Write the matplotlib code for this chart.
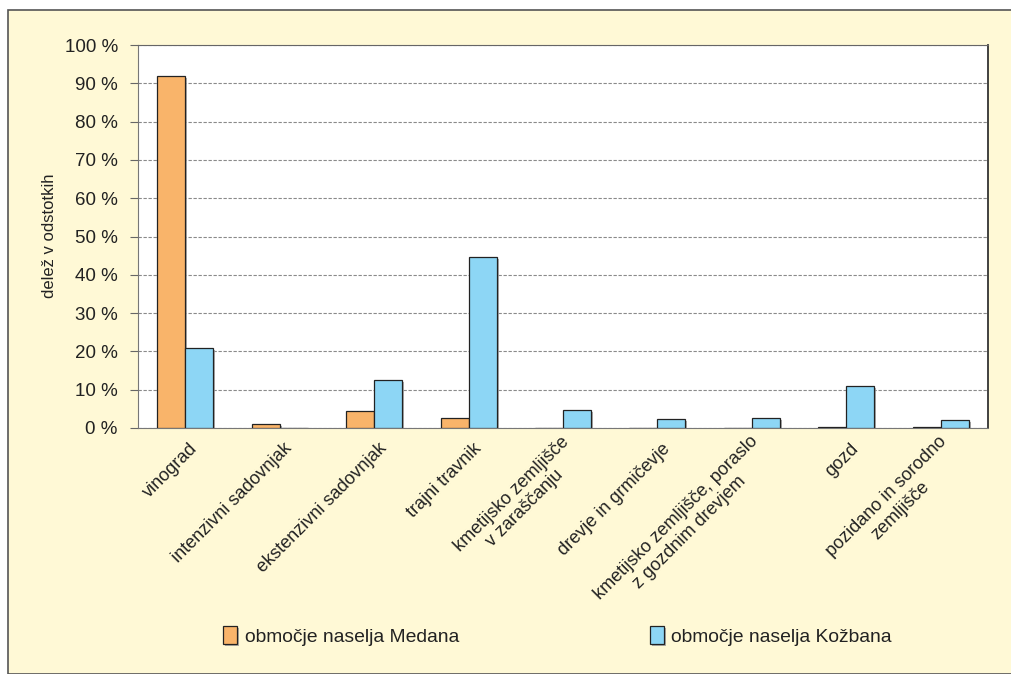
import numpy as np
import matplotlib.pyplot as plt
from matplotlib.patches import Rectangle
from matplotlib.transforms import ScaledTranslation
import matplotlib.patheffects as pe

plt.rcParams['font.family'] = ['Liberation Sans', 'DejaVu Sans']

categories = ['vinograd', 'intenzivni sadovnjak', 'ekstenzivni sadovnjak', 'trajni travnik',
              'kmetijsko zemljišče\nv zaraščanju', 'drevje in grmičevje',
              'kmetijsko zemljišče, poraslo\nz gozdnim drevjem', 'gozd',
              'pozidano in sorodno\nzemljišče']
medana = [91.9, 1.0, 4.4, 2.6, 0.0, 0.0, 0.0, 0.3, 0.3]
kozbana = [20.9, 0.0, 12.5, 44.6, 4.7, 2.3, 2.6, 11.0, 2.1]
series_names = ['območje naselja Medana', 'območje naselja Kožbana']
yticks = [0, 10, 20, 30, 40, 50, 60, 70, 80, 90, 100]

fig = plt.figure(figsize=(10.12, 6.74), dpi=100)
fig.patch.set_facecolor('white')
# cream background panel
fig.patches.append(Rectangle((8 / 1012, 0), 1.0, 1 - 10 / 674, transform=fig.transFigure,
                             facecolor='#fff9d6', edgecolor='#555555', lw=1.2, zorder=-10))

ax = fig.add_axes([138 / 1012, 1 - 428 / 674, 850 / 1012, 383 / 674])
ax.set_facecolor('white')

x = np.arange(len(categories))
w = 0.296
shadow = [pe.SimplePatchShadow(offset=(1.5, -1.5), shadow_rgbFace='#999999', alpha=0.8), pe.Normal()]
b1 = ax.bar(x - w / 2, medana, w, color='#f9b46a', edgecolor='#222222', lw=0.9, zorder=3,
            label=series_names[0])
b2 = ax.bar(x + w / 2, kozbana, w, color='#8dd6f5', edgecolor='#222222', lw=0.9, zorder=3,
            label=series_names[1])
for b in list(b1) + list(b2):
    if b.get_height() > 0:
        b.set_path_effects(shadow)

ax.set_xlim(-0.5, len(categories) - 0.5)
ax.set_ylim(0, 100)
ax.set_yticks(yticks)
ax.set_yticklabels([f'{v} %' for v in yticks], fontsize=13.5, color='#222222')
ax.yaxis.grid(True, color='#8a8a8a', ls=(0, (3, 1.5)), lw=0.8, zorder=0)
ax.tick_params(axis='y', length=6, color='#666666', pad=8.5)
ax.tick_params(axis='x', length=0, pad=13)
ax.set_xticks(x)
ax.set_xticklabels(categories, rotation=45, ha='right', va='center', rotation_mode='anchor',
                   fontsize=13, color='#222222', multialignment='center')
shift = ScaledTranslation(10 / 100, 0, fig.dpi_scale_trans)
for lab in ax.get_xticklabels():
    lab.set_transform(lab.get_transform() + shift)
for s in ['left', 'bottom']:
    ax.spines[s].set_color('#777777')
ax.spines['top'].set_color('#666666')
ax.spines['right'].set_color('#333333')
ax.spines['right'].set_linewidth(1.3)

fig.text(50 / 1012, 1 - 236 / 674, 'delež v odstotkih', rotation=90, ha='center', va='center',
         fontsize=12, color='#222222')

fig.legend(handles=[b1, b2], labels=series_names, loc='center left', bbox_to_anchor=(206 / 1012, 1 - 636 / 674),
           ncol=2, frameon=False, columnspacing=9.9, handlelength=0.7, handleheight=1.0,
           handletextpad=0.4, prop={'size': 13.9})
for t in fig.legends[0].get_texts():
    t.set_color('#222222')

fig.savefig('out.png', dpi=100)
